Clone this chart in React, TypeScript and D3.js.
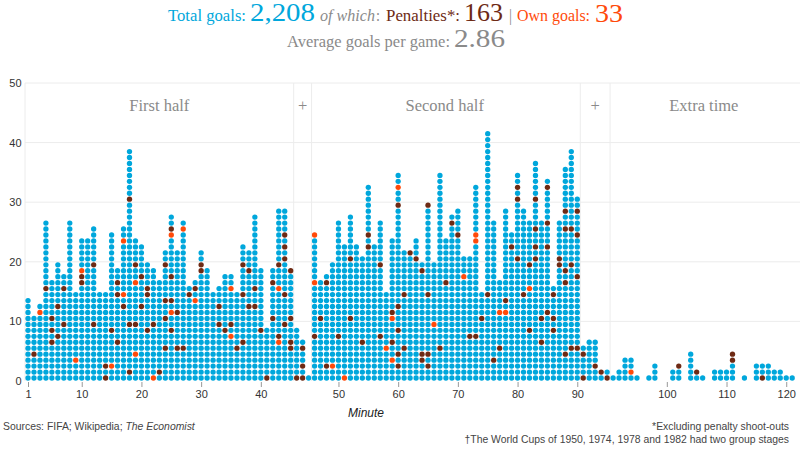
import React, { useEffect, useRef } from "react";
import * as d3 from "d3";

const WIDTH = 800;
const HEIGHT = 451;
const SERIF = "'Liberation Serif', serif";
const SANS = "'Liberation Sans', Arial, sans-serif";

const BLUE = "#00a7dc";
const BROWN = "#6e2a14";
const ORANGE = "#ff4a0a";
const GREY_TEXT = "#8a8a8a";
const GRID = "#ececec";

// one column per minute, stoppage time gets its own columns
const firstHalf = d3.range(1, 46).map(String);
const firstStoppage = ["45+1", "45+2", "45+3"];
const secondHalf = d3.range(46, 91).map(String);
const secondStoppage = ["90+1", "90+2", "90+3", "90+4", "90+5"];
const extraTime = d3.range(91, 122).map(String);
const columns = [
  ...firstHalf,
  ...firstStoppage,
  ...secondHalf,
  ...secondStoppage,
  ...extraTime,
];

const goals = [
  14, 11, 13, 27, 17, 20, 18, 27, 15, 24, 24, 26, 15, 15, 25, 19, 26, 39, 24, 23,
  20, 19, 17, 22, 28, 22, 27, 16, 17, 22, 19, 15, 16, 18, 18, 15, 23, 22, 28, 19,
  9, 19, 29, 29, 19,
  9, 7, 1,
  25, 17, 18, 20, 27, 23, 28, 23, 21, 33, 23, 27, 15, 24, 35, 22, 22, 24, 20, 30,
  20, 35, 24, 28, 29, 21, 21, 33, 15, 42, 27, 17, 29, 25, 35, 29, 27, 37, 27, 34,
  16, 27, 36, 39, 31,
  6, 7, 7, 2, 2,
  1, 2, 4, 4, 1, 0, 1, 3, 0, 0, 2, 3, 0, 5, 2, 1, 0, 2, 2, 2, 5, 0, 1, 0, 3, 3, 3,
  2, 2, 1, 1,
];

// which goal in the stack (from the bottom) was a penalty, by column
const penalties: Record<string, number[]> = {
  "2": [4], "4": [15], "5": [10, 8, 6], "6": [12, 7], "7": [15, 9], "10": [17, 16],
  "12": [19, 9], "14": [2, 0], "15": [8], "16": [16, 14, 6], "17": [12],
  "18": [30, 9, 1], "19": [19, 9], "20": [17, 12], "21": [15, 14, 8], "22": [9],
  "23": [1], "24": [19, 13, 10, 5], "25": [25, 17, 13, 8], "26": [11, 5], "27": [5],
  "28": [14], "29": [15], "30": [19, 18], "33": [12, 9], "34": [8], "35": [9],
  "36": [5], "37": [19, 14, 6], "38": [18, 12], "39": [15, 12], "40": [8], "41": [0],
  "42": [16, 10], "43": [19, 7], "44": [24, 22, 20, 14, 9], "45": [18, 10, 6, 5],
  "45+1": [0], "45+2": [5, 2, 0],
  "46": [7], "47": [10], "48": [16, 2], "50": [7], "52": [20, 10], "54": [6],
  "55": [24, 22], "57": [19, 7], "59": [11, 6], "60": [29, 12, 8, 4, 2],
  "61": [14, 5], "62": [21], "63": [20], "64": [18, 4, 3], "65": [29, 14, 4, 2],
  "67": [5], "68": [16], "69": [26], "70": [24], "72": [7], "73": [7], "74": [10],
  "75": [14], "76": [3], "77": [5], "78": [13], "79": [22], "80": [32, 30, 20],
  "81": [14], "82": [19, 8], "83": [30, 25, 22, 20], "84": [10, 6],
  "85": [32, 26, 22, 11], "86": [14, 10, 8], "87": [20, 19], "88": [28, 25, 18, 16, 4],
  "89": [25, 19, 5], "90": [28, 24, 17, 5],
  "90+1": [4, 0], "90+3": [2], "90+4": [1], "90+5": [0],
  "102": [2], "105": [1], "111": [4, 3], "116": [0],
};

const ownGoals: Record<string, number[]> = {
  "3": [11], "9": [3], "10": [18], "15": [2], "17": [23, 14], "19": [16, 4], "22": [0],
  "25": [24, 11], "27": [25], "29": [13], "35": [15, 7], "43": [15, 6],
  "46": [24, 16], "49": [2], "51": [0], "58": [5], "59": [10, 3], "60": [32], "66": [9],
  "71": [17], "73": [24, 23], "77": [11], "78": [11], "82": [15], "94": [1],
};

const yTicks = [0, 10, 20, 30, 40, 50];
const xTicks = ["1", "10", "20", "30", "40", "50", "60", "70", "80", "90", "100", "110", "120"];
const sections = ["First half", "+", "Second half", "+", "Extra time"];
const sectionCentres = [22, 46, 69.8, 95, 113.2];
const separators = [-0.5, 44.5, 47.5, 92.5, 97.5];

const x = d3.scaleLinear().domain([0, 128]).range([28, 792.2]);
const y = d3.scaleLinear().domain([0, 50]).range([381, 83]);

function App() {
  const svgRef = useRef<SVGSVGElement | null>(null);

  useEffect(() => {
    const svgElement = svgRef.current;
    if (!svgElement) return;

    const svg = d3.select(svgElement);
    svg.selectAll("*").remove();
    svg.style("background-color", "white");

    // grid
    svg
      .append("g")
      .selectAll("line")
      .data(yTicks.slice(1))
      .enter()
      .append("line")
      .attr("x1", x(-0.5))
      .attr("x2", WIDTH)
      .attr("y1", (d) => y(d))
      .attr("y2", (d) => y(d))
      .attr("stroke", GRID);

    svg
      .append("g")
      .selectAll("line")
      .data(separators)
      .enter()
      .append("line")
      .attr("x1", (d) => x(d))
      .attr("x2", (d) => x(d))
      .attr("y1", y(50))
      .attr("y2", y(0))
      .attr("stroke", GRID);

    // section names
    svg
      .append("g")
      .selectAll("text")
      .data(sections)
      .enter()
      .append("text")
      .attr("x", (_, i) => x(sectionCentres[i]))
      .attr("y", 111)
      .attr("text-anchor", "middle")
      .attr("font-family", SERIF)
      .attr("font-size", 16.5)
      .attr("fill", GREY_TEXT)
      .text((d) => d);

    // y axis
    const yAxis = svg
      .append("g")
      .attr("transform", `translate(${x(-0.5)},0)`)
      .call(d3.axisLeft(y).tickValues(yTicks).tickSize(0).tickPadding(3.5));
    yAxis.select(".domain").remove();
    yAxis
      .selectAll("text")
      .attr("font-family", SANS)
      .attr("font-size", 11)
      .attr("fill", "#333");

    // x axis
    const minuteScale = d3
      .scaleOrdinal<string, number>()
      .domain(columns)
      .range(columns.map((_, i) => x(i)));
    const xAxis = svg
      .append("g")
      .attr("transform", `translate(0,${y(0) + 1})`)
      .call(
        d3
          .axisBottom(minuteScale as any)
          .tickValues(xTicks)
          .tickSize(5)
          .tickPadding(3) as any
      );
    xAxis.select(".domain").remove();
    xAxis.selectAll("line").attr("stroke", "#999");
    xAxis
      .selectAll("text")
      .attr("font-family", SANS)
      .attr("font-size", 11)
      .attr("fill", "#333");

    // dots
    const dots = columns.flatMap((column, i) =>
      d3.range(goals[i]).map((row) => ({
        i,
        row,
        color: ownGoals[column]?.includes(row)
          ? ORANGE
          : penalties[column]?.includes(row)
          ? BROWN
          : BLUE,
      }))
    );
    svg
      .append("g")
      .selectAll("circle")
      .data(dots)
      .enter()
      .append("circle")
      .attr("cx", (d) => x(d.i))
      .attr("cy", (d) => y(d.row + 0.5))
      .attr("r", 2.65)
      .attr("fill", (d) => d.color);

    // header
    const header: [string, number, number, number, number, string, string][] = [
      ["Total goals:", 168, 21, 78, 17.5, BLUE, "normal"],
      ["2,208", 250, 21, 65, 25, BLUE, "normal"],
      ["of which", 320, 21, 55, 17.5, GREY_TEXT, "italic"],
      [":", 376, 21, 4, 17.5, GREY_TEXT, "normal"],
      ["Penalties*:", 386, 21, 74, 17.5, BROWN, "normal"],
      ["163", 464, 21, 39, 25, BROWN, "normal"],
      ["|", 509, 21, 3, 17.5, GREY_TEXT, "normal"],
      ["Own goals:", 517, 21, 73, 17.5, ORANGE, "normal"],
      ["33", 595, 22, 28, 25, ORANGE, "normal"],
      ["Average goals per game:", 287, 47, 163, 17.5, GREY_TEXT, "normal"],
      ["2.86", 454, 47, 51, 25, GREY_TEXT, "normal"],
    ];
    svg
      .append("g")
      .selectAll("text")
      .data(header)
      .enter()
      .append("text")
      .attr("x", (d) => d[1])
      .attr("y", (d) => d[2])
      .attr("textLength", (d) => d[3])
      .attr("lengthAdjust", "spacingAndGlyphs")
      .attr("font-family", SERIF)
      .attr("font-size", (d) => d[4])
      .attr("fill", (d) => d[5])
      .attr("font-style", (d) => d[6])
      .text((d) => d[0]);

    // axis title and notes
    svg
      .append("text")
      .attr("x", 366)
      .attr("y", 417)
      .attr("text-anchor", "middle")
      .attr("font-family", SANS)
      .attr("font-size", 12)
      .attr("font-style", "italic")
      .attr("fill", "#222")
      .text("Minute");

    const source = svg
      .append("text")
      .attr("x", 3)
      .attr("y", 430)
      .attr("font-family", SANS)
      .attr("font-size", 10.4)
      .attr("fill", "#444");
    source.append("tspan").text("Sources: FIFA; Wikipedia; ");
    source.append("tspan").attr("font-style", "italic").text("The Economist");

    svg
      .append("g")
      .selectAll("text")
      .data([
        "*Excluding penalty shoot-outs",
        "†The World Cups of 1950, 1974, 1978 and 1982 had two group stages",
      ])
      .enter()
      .append("text")
      .attr("x", 789)
      .attr("y", (_, i) => 430 + i * 13)
      .attr("text-anchor", "end")
      .attr("font-family", SANS)
      .attr("font-size", 10.4)
      .attr("fill", "#444")
      .text((d) => d);
  }, []);

  return (
    <svg
      ref={svgRef}
      width={WIDTH}
      height={HEIGHT}
      style={{ position: "absolute", left: 0, top: 0 }}
    ></svg>
  );
}

export default App;
